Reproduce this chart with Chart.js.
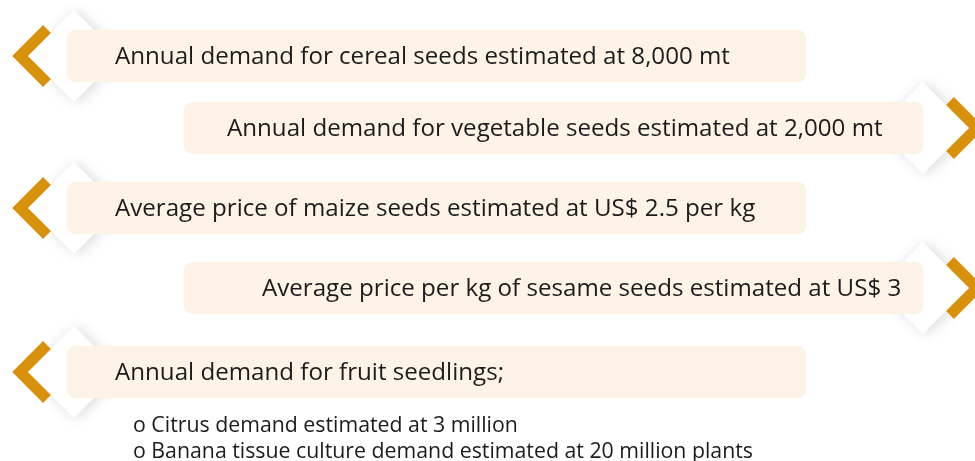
<!DOCTYPE html>
<html>
<head>
<meta charset="utf-8">
<script src="https://cdn.jsdelivr.net/npm/chart.js@4.4.1/dist/chart.umd.min.js"></script>
<style>
  html, body { margin: 0; padding: 0; background: #ffffff; }
  #wrap { width: 975px; height: 461px; position: relative; }
  canvas { display: block; }
</style>
</head>
<body>
<div id="wrap"><canvas id="c" width="975" height="461"></canvas></div>
<script>
// ---- content / data ----
const rowLabels = [
  "Annual demand for cereal seeds estimated at 8,000 mt",
  "Annual demand for vegetable seeds estimated at 2,000 mt",
  "Average price of maize seeds estimated at US$ 2.5 per kg",
  "Average price per kg of sesame seeds estimated at US$ 3",
  "Annual demand for fruit seedlings;"
];
const subLabels = [
  "o Citrus demand estimated at 3 million",
  "o Banana tissue culture demand estimated at 20 million plants"
];
const boxStart  = [67, 184, 67, 184, 67];
const boxEnd    = [806, 923, 806, 923, 806];
const rowCenter = [56, 128, 208, 288, 372];
const markerSide = ["left", "right", "left", "right", "left"];
const subRows = [426, 452];

// ---- styles ----
const BOX_COLOR = "#FDF3E6";
const ORANGE = "#D8910A";
const TEXT_COLOR = "#1c1c1c";
const FONT = "'Open Sans', 'DejaVu Sans', sans-serif";
const textInset = [48, 43, 48, 78, 48];
const subInset = 66;

const diamondPts = rowCenter.map((y, i) => ({
  x: markerSide[i] === "left" ? boxStart[i] + 7 : boxEnd[i],
  y: y
}));

const chevronSets = diamondPts.map((p, i) => {
  const dir = markerSide[i] === "left" ? -1 : 1;
  const tipX = p.x + dir * 54;
  const armX = p.x + dir * 27;
  return {
    type: "line",
    data: [{x: armX, y: p.y - 27}, {x: tipX, y: p.y}, {x: armX, y: p.y + 27}],
    borderColor: ORANGE,
    borderWidth: 11,
    borderJoinStyle: "miter",
    borderCapStyle: "butt",
    pointRadius: 0,
    tension: 0,
    fill: false,
    clip: false,
    order: 1
  };
});

const shadowPlugin = {
  id: "diamondShadow",
  beforeDatasetDraw(chart, args) {
    if (chart.data.datasets[args.index].isDiamond) {
      const ctx = chart.ctx;
      ctx.save();
      ctx.shadowColor = "rgba(0,0,0,0.15)";
      ctx.shadowBlur = 14;
      ctx.shadowOffsetX = 3;
      ctx.shadowOffsetY = 1;
    }
  },
  afterDatasetDraw(chart, args) {
    if (chart.data.datasets[args.index].isDiamond) {
      chart.ctx.restore();
    }
  }
};

const textPlugin = {
  id: "boxText",
  afterDatasetsDraw(chart) {
    const ctx = chart.ctx;
    const meta = chart.getDatasetMeta(1);
    ctx.save();
    ctx.font = "100px " + FONT;
    const w1 = ctx.measureText(rowLabels[0]).width;
    const mainSize = 100 * 615 / w1;
    const w2 = ctx.measureText(subLabels[1]).width;
    const subSize = 100 * 620 / w2;
    ctx.fillStyle = TEXT_COLOR;
    ctx.textBaseline = "middle";
    ctx.textAlign = "left";
    ctx.font = mainSize.toFixed(2) + "px " + FONT;
    meta.data.forEach((bar, i) => {
      const left = Math.min(bar.x, bar.base);
      ctx.fillText(rowLabels[i], left + textInset[i], bar.y + 1);
    });
    ctx.font = subSize.toFixed(2) + "px " + FONT;
    const ys = chart.scales.y;
    const left5 = Math.min(meta.data[4].x, meta.data[4].base);
    subLabels.forEach((t, i) => {
      ctx.fillText(t, left5 + subInset, ys.getPixelForValue(subRows[i]));
    });
    ctx.restore();
  }
};

new Chart(document.getElementById("c"), {
  data: {
    datasets: [
      {
        type: "scatter",
        isDiamond: true,
        data: diamondPts,
        pointStyle: "rectRot",
        pointRadius: 46,
        pointHoverRadius: 46,
        backgroundColor: "#ffffff",
        borderColor: "#ffffff",
        pointBorderWidth: 0,
        clip: false,
        order: 3
      },
      {
        type: "bar",
        indexAxis: "y",
        data: rowLabels.map((_, i) => ({x: [boxStart[i], boxEnd[i]], y: rowCenter[i]})),
        backgroundColor: BOX_COLOR,
        borderRadius: 9,
        borderSkipped: false,
        barThickness: 52,
        order: 2
      },
      ...chevronSets
    ]
  },
  options: {
    responsive: false,
    animation: false,
    layout: { padding: 0, autoPadding: false },
    plugins: { legend: { display: false }, tooltip: { enabled: false } },
    events: [],
    scales: {
      x: { type: "linear", min: 0, max: 975, display: false, offset: false, grace: 0, bounds: "data" },
      y: { type: "linear", min: 0, max: 461, reverse: true, display: false, offset: false, grace: 0, bounds: "data" }
    }
  },
  plugins: [shadowPlugin, textPlugin]
});
</script>
</body>
</html>
